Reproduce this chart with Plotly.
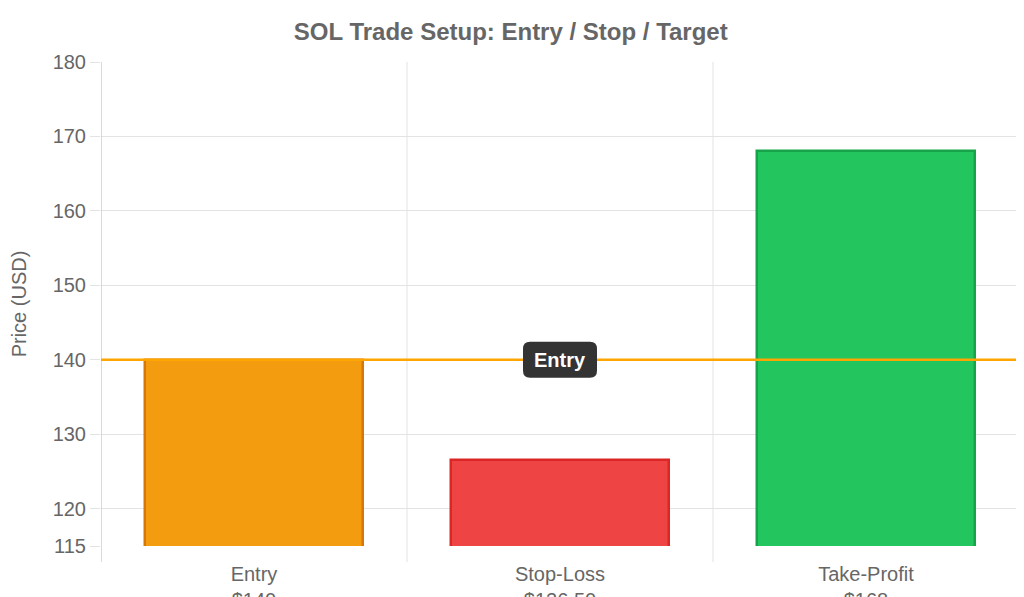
import plotly.graph_objects as go

# Trade levels for SOL
categories = ["Entry", "Stop-Loss", "Take-Profit"]
prices = [140, 126.5, 168]
price_labels = ["$140", "$126.50", "$168"]
fill_colors = ["#f39c0f", "#ef4444", "#22c55e"]
border_colors = ["#d97706", "#dc2626", "#16a34a"]
entry_level = 140
y_ticks = [115, 120, 130, 140, 150, 160, 170, 180]

tick_text = [f"{c}<br>{p}" for c, p in zip(categories, price_labels)]
x_pos = list(range(len(categories)))

fig = go.Figure()
fig.add_trace(go.Bar(
    x=x_pos,
    y=prices,
    width=0.715,
    marker=dict(color=fill_colors, line=dict(color=border_colors, width=2.5)),
    hoverinfo="skip",
    showlegend=False,
))

grid = "#e3e3e3"
shapes = []
# vertical grid lines between categories, running a bit below the axis
for xb in [0.5, 1.5]:
    shapes.append(dict(type="line", xref="x", yref="paper", x0=xb, x1=xb, y0=-0.033, y1=1,
                       line=dict(color=grid, width=1), layer="below"))
# left axis line
shapes.append(dict(type="line", xref="x", yref="paper", x0=-0.5, x1=-0.5, y0=-0.033, y1=1,
                   line=dict(color="#b5b5b5", width=1)))
# entry line
shapes.append(dict(type="line", xref="paper", yref="y", x0=0, x1=1, y0=entry_level, y1=entry_level,
                   line=dict(color="#ffa500", width=2.5)))

# rounded label box for the entry line
def rounded_box(x0, x1, y0, y1, r):
    return (f"M{x0+r},{y0} L{x1-r},{y0} Q{x1},{y0} {x1},{y0+r} "
            f"L{x1},{y1-r} Q{x1},{y1} {x1-r},{y1} L{x0+r},{y1} "
            f"Q{x0},{y1} {x0},{y1-r} L{x0},{y0+r} Q{x0},{y0} {x0+r},{y0} Z")

shapes.append(dict(type="path", xref="paper", yref="y", xsizemode="pixel", ysizemode="pixel",
                   xanchor=0.5, yanchor=entry_level,
                   path=rounded_box(-37, 37, -18, 18, 7),
                   fillcolor="#333333", line=dict(width=0)))

# page body has an 8px margin, so margins are trimmed to keep the plot area in place
fig.update_layout(
    width=1024,
    height=597,
    margin=dict(l=93, r=13, t=54, b=59),
    paper_bgcolor="white",
    plot_bgcolor="white",
    font=dict(family="Liberation Sans, Arial, sans-serif", color="#666666"),
    title=dict(text="<b>SOL Trade Setup: Entry / Stop / Target</b>", x=0.491, xanchor="center",
               y=0.96, yanchor="middle", font=dict(size=24, color="#666666")),
    xaxis=dict(
        range=[-0.5, 2.5],
        tickvals=x_pos,
        ticktext=tick_text,
        tickfont=dict(size=20, color="#666666"),
        showgrid=False,
        zeroline=False,
        showline=False,
        ticks="",
        ticklabelstandoff=14,
        automargin=False,
    ),
    yaxis=dict(
        range=[115, 180],
        tickvals=y_ticks,
        tickfont=dict(size=20, color="#666666"),
        showgrid=True,
        gridcolor=grid,
        zeroline=False,
        showline=False,
        ticks="outside",
        ticklen=10,
        tickcolor=grid,
        automargin=False,
        title=dict(text="Price (USD)", font=dict(size=20, color="#666666"), standoff=20),
    ),
    shapes=shapes,
    annotations=[dict(
        xref="paper", yref="y", x=0.5, y=entry_level, text="<b>Entry</b>",
        showarrow=False, font=dict(size=20, color="white"),
    )],
    bargap=0,
)

fig.write_html("out.html")
